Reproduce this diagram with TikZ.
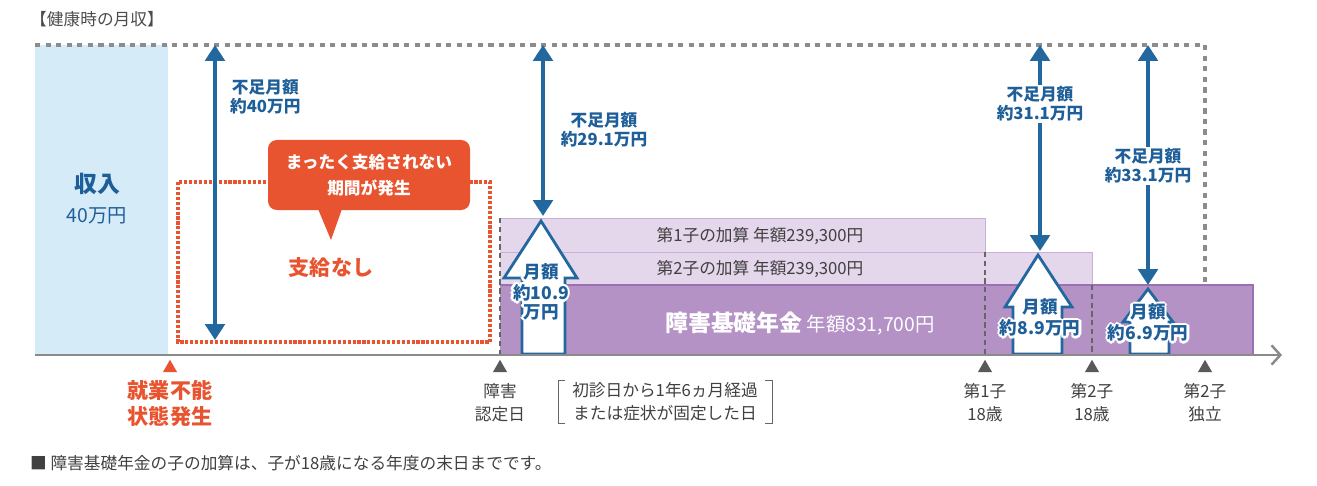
\documentclass[tikz,border=0pt]{standalone}
\usepackage{fontspec}
\setmainfont{Noto Sans CJK JP}
\usepackage{contour}
\contourlength{1.4pt}
\contournumber{8}
\usetikzlibrary{arrows.meta,positioning,shapes.geometric}
\definecolor{navy}{HTML}{1F5F99}
\definecolor{arrowblue}{HTML}{23679F}
\definecolor{skyfill}{HTML}{D5EBF8}
\definecolor{lilac}{HTML}{E4D6EB}
\definecolor{lilacline}{HTML}{C9B0D8}
\definecolor{plum}{HTML}{B592C6}
\definecolor{plumline}{HTML}{9A70B3}
\definecolor{alert}{HTML}{E8542F}
\definecolor{axisgray}{HTML}{8A8A8A}
\newcommand{\halo}[1]{\contour{white}{#1}}
\tikzset{
  txt/.style={font=\fontsize{9.5pt}{11pt}\selectfont, align=center, inner sep=1pt},
  bluetxt/.style={txt, text=navy, font=\fontsize{9.5pt}{11pt}\selectfont\bfseries},
  gap/.style={draw=arrowblue, line width=2.8pt, {Triangle[length=9pt,width=11pt]}-{Triangle[length=9pt,width=11pt]}},
  bigup/.style={draw=arrowblue, line width=1.6pt, fill=white, line join=miter},
  tick/.style={fill=#1, draw=none, isosceles triangle, shape border rotate=90, isosceles triangle apex angle=60, minimum size=7pt, inner sep=0pt},
}
\begin{document}
\begin{tikzpicture}[x=0.02cm, y=-0.02cm]
        \useasboundingbox (0,0) rectangle (1317,486);
        % Header and healthy income
        \node[txt, text=black!70] (head) at (97,19) {【健康時の月収】};
        \fill[skyfill] (35,45) rectangle (168,355);
        \draw[black!45, dashed, line width=2pt] (35,45) -- (1205,45) -- (1205,355);
        \node[txt, text=navy, font=\fontsize{13pt}{15pt}\selectfont\bfseries] (inc) at (97,184) {収入};
        \node[txt, text=navy, font=\fontsize{11pt}{13pt}\selectfont] (incv) at (97,216) {40万円};

        % Pension bands
        \fill[lilac] (500,218) rectangle (985,252);
        \draw[lilacline] (500,218) -- (985,218) -- (985,252);
        \fill[lilac] (500,252) rectangle (1092,285);
        \draw[lilacline] (500,252) -- (1092,252) -- (1092,285);
        \fill[plum] (500,285) rectangle (1253,355);
        \draw[plumline, line width=1.2pt] (500,285) -- (1253,285) -- (1253,355);
        \node[txt, text=black!75] (add1) at (760,236) {第1子の加算\ 年額239,300円};
        \node[txt, text=black!75] (add2) at (760,269) {第2子の加算\ 年額239,300円};
        \node[txt, text=white, font=\fontsize{11pt}{13pt}\selectfont] (base) at (800,324) {\textbf{\fontsize{13pt}{15pt}\selectfont 障害基礎年金}\ 年額831,700円};
        \foreach \x/\y in {500/218, 985/252, 1092/285}
            \draw[black!60, densely dashed, line width=1.2pt] (\x,\y) -- (\x,355);

        % No-payment period
        \draw[alert, densely dotted, line width=1.8pt] (178,182) rectangle (490,342);
        \fill[alert, rounded corners=5pt] (268,140) rectangle (470,210);
        \fill[alert] (318,209) -- (342,209) -- (331,240) -- cycle;
        \node[txt, text=white, font=\fontsize{9.5pt}{15pt}\selectfont\bfseries] (nopay) at (369,175) {まったく支給されない\\期間が発生};
        \node[txt, text=alert, font=\fontsize{12pt}{14pt}\selectfont\bfseries] (none) at (331,268) {支給なし};

        % Shortfall arrows
        \coordinate (s1t) at (215,45);  \coordinate (s1b) at (215,340);
        \coordinate (s2t) at (543,45);  \coordinate (s2b) at (543,216);
        \coordinate (s3t) at (1040,45); \coordinate (s3b) at (1040,251);
        \coordinate (s4t) at (1148,45); \coordinate (s4b) at (1148,285);
        \draw[gap] (s1t) -- (s1b);
        \draw[gap] (s2t) -- (s2b);
        \draw[gap] (s3t) -- (s3b);
        \draw[gap] (s4t) -- (s4b);
        \node[bluetxt, anchor=west] (g1) at (228,97) {不足月額\\約40万円};
        \node[bluetxt] (g2) at (604,130) {不足月額\\約29.1万円};
        \node[bluetxt, fill=white] (g3) at (1040,104) {不足月額\\約31.1万円};
        \node[bluetxt, fill=white] (g4) at (1148,166) {不足月額\\約33.1万円};

        % Monthly pension arrows
        \draw[bigup] (541,221) -- (577,278) -- (565,278) -- (565,354) -- (522,354) -- (522,278) -- (504,278) -- cycle;
        \draw[bigup] (1038,255) -- (1072,307) -- (1062,307) -- (1062,354) -- (1013,354) -- (1013,307) -- (1005,307) -- cycle;
        \draw[bigup] (1148,289) -- (1173,322) -- (1169,322) -- (1169,354) -- (1130,354) -- (1130,322) -- (1123,322) -- cycle;
        \node[bluetxt, font=\fontsize{10pt}{10.5pt}\selectfont\bfseries] (m1) at (541,293) {\halo{月額}\\\halo{約10.9}\\\halo{万円}};
        \node[bluetxt, font=\fontsize{10pt}{10.5pt}\selectfont\bfseries] (m2) at (1040,319) {\halo{月額}\\\halo{約8.9万円}};
        \node[bluetxt, font=\fontsize{10pt}{10.5pt}\selectfont\bfseries] (m3) at (1148,324) {\halo{月額}\\\halo{約6.9万円}};

        % Time axis
        \coordinate (ax0) at (35,355);
        \coordinate (ax1) at (1282,355);
        \draw[axisgray, line width=1.4pt, -{Straight Barb[length=5pt,width=11pt]}] (ax0) -- (ax1);
        \node[tick=alert] (t0) at (170,368) {};
        \foreach \x/\n in {500/t1, 985/t2, 1092/t3, 1205/t4}
            \node[tick=black!65] (\n) at (\x,368) {};
        \node[txt, text=alert, font=\fontsize{12pt}{15pt}\selectfont\bfseries, below=3pt of t0] (l0) {就業不能\\状態発生};
        \node[txt, text=black!75, below=5pt of t1, font=\fontsize{9.5pt}{13pt}\selectfont] (l1) {障害\\認定日};
        \node[txt, text=black!75, below=5pt of t2, font=\fontsize{9.5pt}{13pt}\selectfont] (l2) {第1子\\18歳};
        \node[txt, text=black!75, below=5pt of t3, font=\fontsize{9.5pt}{13pt}\selectfont] (l3) {第2子\\18歳};
        \node[txt, text=black!75, below=5pt of t4, font=\fontsize{9.5pt}{13pt}\selectfont] (l4) {第2子\\独立};
        \node[txt, text=black!75, font=\fontsize{9.5pt}{13pt}\selectfont] (note) at (665,402) {初診日から1年6ヵ月経過\\または症状が固定した日};
        \draw[black!60] ([xshift=-3pt]note.north west) -- ++(-4pt,0) |- ([xshift=-3pt]note.south west);
        \draw[black!60] ([xshift=3pt]note.north east) -- ++(4pt,0) |- ([xshift=3pt]note.south east);

        % Footnote
        \node[txt, text=black!75, anchor=west] (foot) at (28,463) {■ 障害基礎年金の子の加算は、子が18歳になる年度の末日までです。};
\end{tikzpicture}
\end{document}
